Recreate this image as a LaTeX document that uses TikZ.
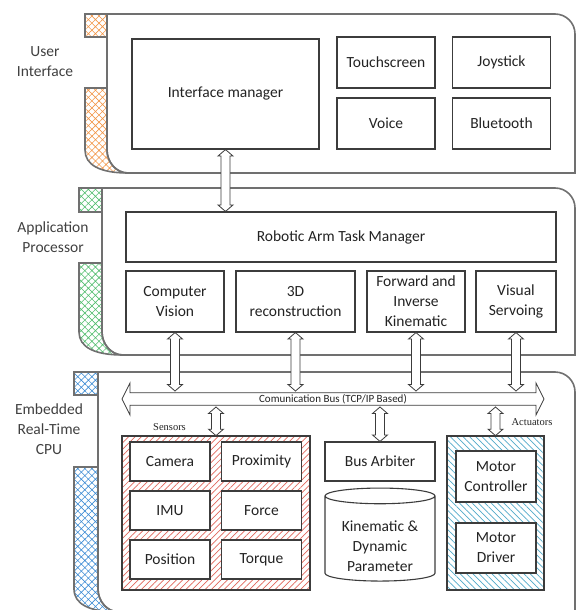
\documentclass[tikz,border=0pt]{standalone}
\usepackage{fontspec}
\setmainfont{Carlito}
\newfontfamily\tagfont{Liberation Serif}
\usetikzlibrary{shapes.geometric,shapes.arrows,patterns.meta,calc}

\definecolor{panelgray}{RGB}{112,112,112}
\definecolor{boxgray}{RGB}{60,60,60}
\definecolor{textdark}{RGB}{35,35,35}
\definecolor{textgray}{RGB}{64,64,64}
\definecolor{uiorange}{RGB}{242,150,72}
\definecolor{apgreen}{RGB}{84,190,112}
\definecolor{rtblue}{RGB}{62,140,212}
\definecolor{sensred}{RGB}{226,104,94}
\definecolor{actblue}{RGB}{82,170,202}

\begin{document}
\begin{tikzpicture}[x=1pt,y=-1pt,
		main node/.style={draw=boxgray,line width=1.1pt,fill=white,align=center,inner sep=1pt,
			font=\fontsize{15.5}{20}\selectfont,text=textdark},
		layer label/.style={align=center,font=\fontsize{15.5}{20}\selectfont,text=textgray},
		group node/.style={draw=boxgray,line width=1.1pt,inner sep=0pt},
		tag node/.style={font=\tagfont\fontsize{10.5}{12}\selectfont,text=textdark},
		frame line/.style={draw=panelgray,line width=1.6pt},
		cross hatch/.style={frame line,pattern={Hatch[angle=45,distance=5pt,line width=.6pt]},pattern color=#1},
		link/.style={draw=boxgray,line width=.8pt,fill=white,
			to path={let \p1=(\tikztostart), \p2=(\tikztotarget) in
				(\x1,\y1) -- (\x1+7.5pt,\y1-6.5pt) -- (\x1+4.5pt,\y1-6.5pt) -- (\x1+4.5pt,\y2+6.5pt)
				-- (\x1+7.5pt,\y2+6.5pt) -- (\x1,\y2) -- (\x1-7.5pt,\y2+6.5pt) -- (\x1-4.5pt,\y2+6.5pt)
				-- (\x1-4.5pt,\y1-6.5pt) -- (\x1-7.5pt,\y1-6.5pt) -- cycle}}]
	\useasboundingbox (0,0) rectangle (576,610);

	% the three layers
	\foreach \xa/\xb/\ya/\yb/\yc/\yd/\col in {85/107/14/37/88/173/uiorange,
			79/102/188/212/263/355/apgreen,74/98/372/395/467/612/rtblue}{
		\draw[frame line,fill=white] (\xb+21,\yd) -- (575,\yd) -- (575,\ya+20)
			arc[start angle=0,end angle=90,radius=20pt] -- (\xb,\ya) -- (\xb,\yd-23)
			.. controls (\xb,\yd-11) and (\xb+9,\yd) .. (\xb+21,\yd);
		\draw[cross hatch=\col] (\xa,\ya) rectangle (\xb,\yb);
		\draw[cross hatch=\col] (\xa,\yc) -- (\xa,\yd-23) .. controls (\xa,\yd-8) and (\xa+15,\yd) .. (\xb+21,\yd)
			.. controls (\xb+9,\yd) and (\xb,\yd-11) .. (\xb,\yd-23) -- (\xb,\yc) -- cycle;
	}

	\node[layer label] (uil) at (45,62) {User\\Interface};
	\node[layer label] (apl) at (53,237) {Application\\Processor};
	\node[layer label] (rtl) at (49,429.5) {Embedded\\Real-Time\\CPU};

	% user interface
	\node[main node,minimum width=187pt,minimum height=110pt] (im) at (225.5,94) {Interface manager};
	\node[main node,minimum width=98pt,minimum height=51pt] (ts) at (386,62.5) {Touchscreen};
	\node[main node,minimum width=98pt,minimum height=51pt] (js) [right of=ts,node distance=115.5pt] {Joystick};
	\node[main node,minimum width=98pt,minimum height=51pt] (vc) [below of=ts,node distance=61pt] {Voice};
	\node[main node,minimum width=98pt,minimum height=51pt] (bt) [below of=js,node distance=61pt] {Bluetooth};

	% application processor
	\node[main node,minimum width=430pt,minimum height=50pt] (tm) at (341,237) {Robotic Arm Task Manager};
	\node[main node,minimum width=98pt,minimum height=61pt] (cv) at (175,301.5) {Computer\\Vision};
	\node[main node,minimum width=119pt,minimum height=61pt] (rec) at (295.5,301.5) {3D\\reconstruction};
	\node[main node,minimum width=98pt,minimum height=61pt] (kin) at (416,301.5) {Forward and\\Inverse\\Kinematic};
	\node[main node,minimum width=80pt,minimum height=61pt] (vs) at (516,301.5) {Visual\\Servoing};

	% real-time cpu
	\node[group node,minimum width=188pt,minimum height=154pt,pattern={Lines[angle=45,distance=4.5pt,line width=.7pt]},
		pattern color=sensred] (sens) at (216,513) {};
	\node[main node,minimum width=80pt,minimum height=39pt] (cam) at (170,461.5) {Camera};
	\node[main node,minimum width=80pt,minimum height=39pt] (prox) [right of=cam,node distance=91.5pt] {Proximity};
	\node[main node,minimum width=80pt,minimum height=39pt] (imu) [below of=cam,node distance=49pt] {IMU};
	\node[main node,minimum width=80pt,minimum height=39pt] (force) [below of=prox,node distance=49pt] {Force};
	\node[main node,minimum width=80pt,minimum height=39pt] (pos) [below of=imu,node distance=49pt] {Position};
	\node[main node,minimum width=80pt,minimum height=39pt] (torq) [below of=force,node distance=49pt] {Torque};
	\node[main node,minimum width=110pt,minimum height=39pt] (arb) at (380,461.5) {Bus Arbiter};
	\node[main node,cylinder,shape border rotate=90,aspect=.2,minimum width=110pt,minimum height=93pt]
		(par) at (380,539.5) {\rule{0pt}{25pt}Kinematic \&\\Dynamic\\Parameter};
	\node[group node,minimum width=97pt,minimum height=154pt,pattern={Lines[angle=135,distance=4.5pt,line width=.7pt]},
		pattern color=actblue] (act) at (495.5,513) {};
	\node[main node,minimum width=80pt,minimum height=51pt] (mc) at (496,476.5) {Motor\\Controller};
	\node[main node,minimum width=80pt,minimum height=50pt] (md) [below of=mc,node distance=71.5pt] {Motor\\Driver};
	\node[tag node] (senstag) at (169.5,427) {Sensors};
	\node[tag node] (acttag) at (532,422) {Actuators};

	% bus and links
	\coordinate (bus top) at (333,391);
	\coordinate (bus bot) at (333,407);
	\path[link] (im.south) to (im.south |- tm.north);
	\path[link] (cv.south) to (cv.south |- bus top);
	\path[link] (rec.south) to (rec.south |- bus top);
	\path[link] (kin.south) to (kin.south |- bus top);
	\path[link] (vs.south) to (vs.south |- bus top);
	\node[draw=boxgray,line width=.8pt,fill=white,double arrow,double arrow head extend=8pt,
		double arrow head indent=0pt,double arrow tip angle=127,minimum height=422pt,minimum width=32pt,
		inner sep=0pt,font=\fontsize{11}{12}\selectfont,text=textdark] (bus) at (333,399) {Comunication Bus (TCP/IP Based)};
	\path[link] (sens.north |- bus bot) to (sens.north);
	\path[link] (arb.north |- bus bot) to (arb.north);
	\path[link] (act.north |- bus bot) to (act.north);
\end{tikzpicture}
\end{document}
